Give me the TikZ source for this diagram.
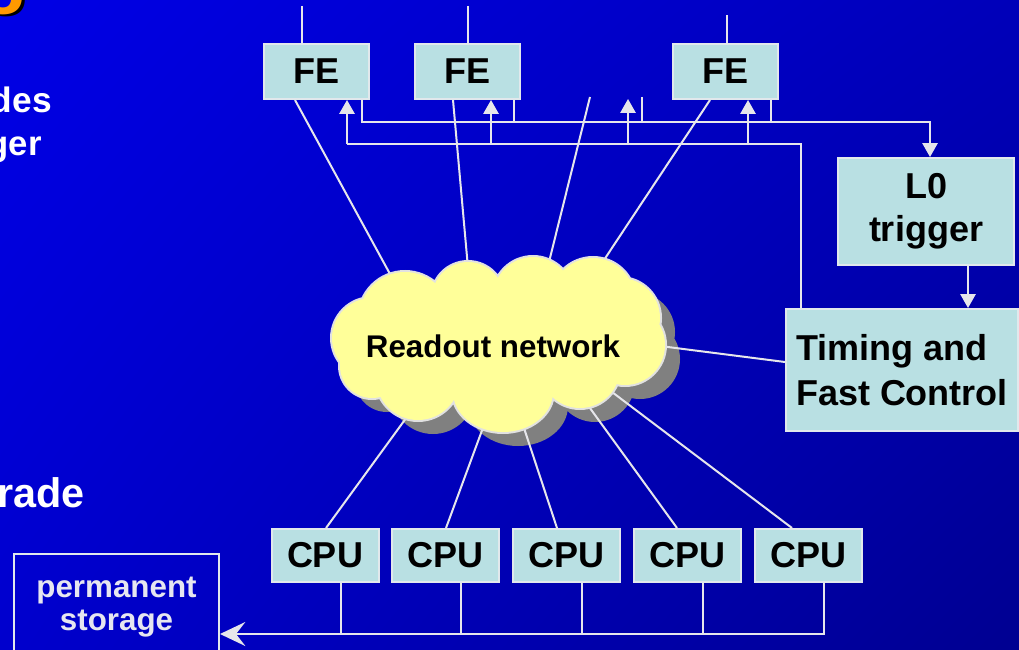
\documentclass[tikz,border=0pt]{standalone}
\usepackage{fontspec}
\setmainfont{Liberation Sans}
\usetikzlibrary{arrows.meta,calc,shadings}
\definecolor{bgA}{RGB}{0,0,230}
\definecolor{bgB}{RGB}{0,0,185}
\definecolor{bgC}{RGB}{0,0,205}
\definecolor{bgD}{RGB}{0,0,145}
\definecolor{boxfill}{RGB}{185,224,227}
\definecolor{boxline}{RGB}{225,232,236}
\definecolor{wirecol}{RGB}{230,230,235}
\definecolor{cloudfill}{RGB}{255,255,153}
\definecolor{cloudshadow}{RGB}{128,128,128}
\definecolor{cloudline}{RGB}{225,225,225}
\definecolor{titleorange}{RGB}{255,153,0}
\definecolor{storetext}{RGB}{230,230,240}
\newcommand\cloudcircles{%
  (372,338) circle[radius=30pt]
  (405,318) circle[radius=34.5pt]
  (468,298) circle[radius=27pt]
  (533,297) circle[radius=30pt]
  (593,300) circle[radius=31.5pt]
  (620,318) circle[radius=30pt]
  (625,345) circle[radius=30pt]
  (580,368) circle[radius=30pt]
  (503,392) ellipse[x radius=37.5pt, y radius=30pt]
  (418,378) circle[radius=31.5pt]
  (372,366) circle[radius=24pt]
  (500,345) ellipse[x radius=97.5pt, y radius=41.25pt]}
\begin{document}
\begin{tikzpicture}[x=0.75pt,y=-0.75pt,
  box/.style={draw=boxline, line width=1.5pt, fill=boxfill, inner sep=0pt,
    font=\bfseries\fontsize{27}{34}\selectfont, text=black},
  febox/.style={box, minimum width=78.75pt, minimum height=41.25pt},
  cpubox/.style={box, minimum width=80.25pt, minimum height=39.75pt},
  wire/.style={draw=wirecol, line width=1.5pt},
  tri/.style={-{Triangle[width=11.5pt,length=10.5pt]}},
  slidetext/.style={text=white, inner sep=0pt, anchor=base east},
  titleg/.style={font=\bfseries\fontsize{58}{66}\selectfont, inner sep=0pt, anchor=base east},
  storetxt/.style={text=storetext, inner sep=0pt, anchor=base,
    font=\bfseries\fontsize{23.5}{28}\selectfont}
]
% background
\shade[upper left=bgA, upper right=bgB, lower left=bgC, lower right=bgD]
  (0,0) rectangle (1019,649);
\useasboundingbox (0,0) rectangle (1019,649);

% slide fragments
\node[titleg, text=black] (gshadow) at (31,1) {g};
\node[titleg, text=titleorange] (gtitle) at (28,-1) {g};
\node[slidetext, font=\bfseries\fontsize{26.5}{32}\selectfont] (des) at (52,113) {des};
\node[slidetext, font=\bfseries\fontsize{26}{31}\selectfont] (ger) at (42,156) {ger};
\node[slidetext, font=\bfseries\fontsize{31}{37}\selectfont] (rade) at (85,507) {rade};

% boxes
\node[febox] (fe1) at (316.5,71.5) {FE};
\node[febox] (fe2) at (467.5,71.5) {FE};
\node[febox] (fe3) at (725.5,71.5) {FE};
\node[box, font=\bfseries\fontsize{27}{32}\selectfont, minimum width=132pt, minimum height=80.25pt, align=center] (l0) at (926,211.5) {L0\\trigger};
\node[box, minimum width=174pt, minimum height=91.5pt, align=left] (tfc) at (902,370) {Timing and\\Fast Control};
\node[cpubox] (cpu1) at (325,555.5) {CPU};
\node[cpubox] (cpu2) at (445.5,555.5) {CPU};
\node[cpubox] (cpu3) at (566.5,555.5) {CPU};
\node[cpubox] (cpu4) at (687,555.5) {CPU};
\node[cpubox] (cpu5) at (808.5,555.5) {CPU};
\node[draw=boxline, line width=1.5pt, minimum width=153.75pt, minimum height=120pt, inner sep=0pt] (storage) at (116.5,634) {};
\node[storetxt] (st1) at (116.5,597) {permanent};
\node[storetxt] (st2) at (116.5,630) {storage};

% cloud shadow
\fill[cloudshadow, shift={(15,14)}] \cloudcircles;

% inputs from above
\coordinate (t1) at (302,6);
\coordinate (t2) at (468,6);
\coordinate (t3) at (727,15);
\draw[wire] (t1) -- (t1 |- fe1.north);
\draw[wire] (t2) -- (t2 |- fe2.north);
\draw[wire] (t3) -- (t3 |- fe3.north);

% cloud edge points
\coordinate (r1) at (396,285);
\coordinate (r2) at (468,268);
\coordinate (r3) at (549,262);
\coordinate (r4) at (602,263);
\coordinate (r5) at (660,346);
\coordinate (c1) at (412,410);
\coordinate (c2) at (484,425);
\coordinate (c3) at (521,419);
\coordinate (c4) at (587,404);
\coordinate (c5) at (608,389);
\coordinate (f1) at (590,97);

% FE to network
\draw[wire] ($(fe1.south)+(-21.5,0)$) -- (r1);
\draw[wire] ($(fe2.south)+(-14.5,0)$) -- (r2);
\draw[wire] (f1) -- (r3);
\draw[wire] ($(fe3.south)+(-15.5,0)$) -- (r4);

% upper bus to L0 trigger
\coordinate (l0in) at ($(l0.north)+(4,0)$);
\draw[wire,tri] ($(fe1.south)+(45.5,0)$) |- ($(fe1.south)+(100,22)$) -| (l0in);
\draw[wire] ($(fe2.south)+(46.5,0)$) -- ++(0,22);
\coordinate (f2) at (642,97);
\draw[wire] (f2) -- ++(0,24);
\draw[wire] ($(fe3.south)+(45.5,0)$) -- ++(0,22);

% lower bus from TFC
\coordinate (tfcin) at ($(tfc.north)+(-101,0)$);
\draw[wire] ($(fe1.south)+(30.5,44)$) -| (tfcin);
\draw[wire,tri] ($(fe1.south)+(30.5,44)$) -- ($(fe1.south)+(30.5,0)$);
\draw[wire,tri] ($(fe2.south)+(23.5,44)$) -- ($(fe2.south)+(23.5,0)$);
\coordinate (f3) at (628,99);
\draw[wire,tri] ($(f3)+(0,44)$) -- (f3);
\draw[wire,tri] ($(fe3.south)+(22.5,44)$) -- ($(fe3.south)+(22.5,0)$);

% L0 to TFC
\coordinate (l0out) at ($(l0.south)+(42,0)$);
\draw[wire,tri] (l0out) -- (l0out |- tfc.north);

% network to TFC
\draw[wire] (r5) -- ($(tfc.west)+(0,-8)$);

% network to CPUs
\draw[wire] (c1) -- ($(cpu1.north)+(1,0)$);
\draw[wire] (c2) -- ($(cpu2.north)+(0.5,0)$);
\draw[wire] (c3) -- ($(cpu3.north)+(-9.5,0)$);
\draw[wire] (c4) -- ($(cpu4.north)+(-10,0)$);
\draw[wire] (c5) -- ($(cpu5.north)+(-16.5,0)$);

% CPUs to storage
\coordinate (d1) at ($(cpu1.south)+(15.5,0)$);
\coordinate (d2) at ($(cpu2.south)+(15.5,0)$);
\coordinate (d3) at ($(cpu3.south)+(15.5,0)$);
\coordinate (d4) at ($(cpu4.south)+(15.5,0)$);
\coordinate (d5) at ($(cpu5.south)+(15.5,0)$);
\draw[wire] (d1) -- (d1 |- storage.east);
\draw[wire] (d2) -- (d2 |- storage.east);
\draw[wire] (d3) -- (d3 |- storage.east);
\draw[wire] (d4) -- (d4 |- storage.east);
\draw[wire, -{Stealth[length=19pt,width=18pt,inset=7pt]}] (d5) |- (storage.east);

% cloud
\draw[cloudline, line width=3pt] \cloudcircles;
\fill[cloudfill] \cloudcircles;
\node[font=\bfseries\fontsize{23.5}{28}\selectfont, text=black, inner sep=0pt] (net) at (493,346) {Readout network};
\end{tikzpicture}
\end{document}
